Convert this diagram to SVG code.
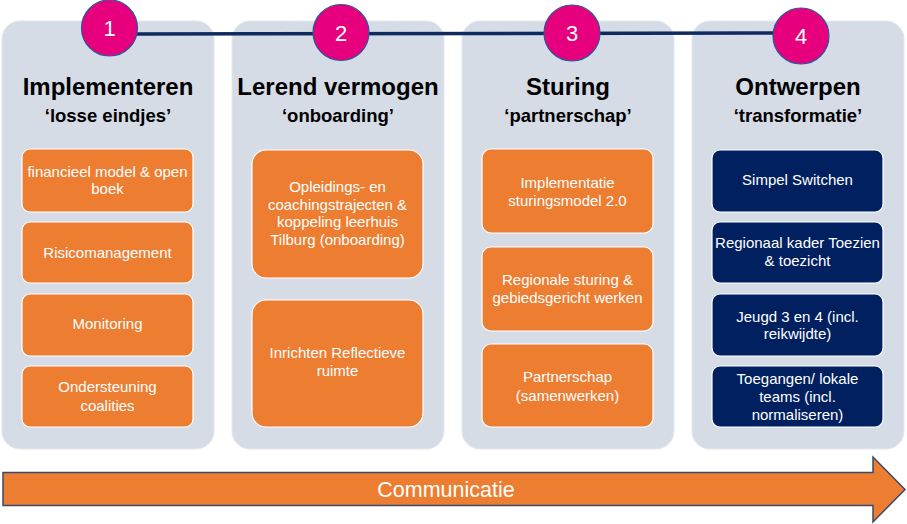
<svg xmlns="http://www.w3.org/2000/svg" width="907" height="524" viewBox="0 0 907 524">
<style>
.panel{fill:#D6DCE5;stroke:#E3E7EE;stroke-width:1}
.ob{fill:#ED7D31;stroke:#FFFFFF;stroke-width:1.2}
.nb{fill:#002060;stroke:#FFFFFF;stroke-width:1.2}
.circ{fill:#E6007E;stroke:#2F5597;stroke-width:1.2}
.num{font-family:"Liberation Sans",Arial,sans-serif;font-size:22px;fill:#FFFFFF;text-anchor:middle}
.title{font-family:"Liberation Sans",Arial,sans-serif;font-size:24px;font-weight:bold;fill:#000000;text-anchor:middle}
.sub{font-family:"Liberation Sans",Arial,sans-serif;font-size:18.5px;font-weight:bold;fill:#000000;text-anchor:middle}
.bt{font-family:"Liberation Sans",Arial,sans-serif;font-size:15px;fill:#FFFFFF;text-anchor:middle}
.comm{font-family:"Liberation Sans",Arial,sans-serif;font-size:21.5px;fill:#FFFFFF;text-anchor:middle}
</style>
<rect width="907" height="524" fill="#FFFFFF"/>

<g id="panel1">
<rect class="panel" x="2" y="21" width="212" height="428" rx="18"/>
<text class="title" x="108" y="95">Implementeren</text>
<text class="sub" x="108" y="122">‘losse eindjes’</text>
<rect class="ob" x="22" y="149" width="171" height="63" rx="8"/>
<text class="bt" x="107.5" y="177">financieel model &amp; open</text>
<text class="bt" x="107.5" y="194">boek</text>
<rect class="ob" x="22" y="222" width="171" height="61" rx="8"/>
<text class="bt" x="107.5" y="258">Risicomanagement</text>
<rect class="ob" x="22" y="294" width="171" height="62" rx="8"/>
<text class="bt" x="107.5" y="329">Monitoring</text>
<rect class="ob" x="22" y="366" width="171" height="61" rx="8"/>
<text class="bt" x="107.5" y="392">Ondersteuning</text>
<text class="bt" x="107.5" y="411">coalities</text>
</g>

<g id="panel2">
<rect class="panel" x="232" y="21" width="212" height="428" rx="18"/>
<text class="title" x="338" y="95">Lerend vermogen</text>
<text class="sub" x="338" y="122">‘onboarding’</text>
<rect class="ob" x="252" y="150" width="171" height="128" rx="14"/>
<text class="bt" x="337.5" y="192">Opleidings- en</text>
<text class="bt" x="337.5" y="210">coachingstrajecten &amp;</text>
<text class="bt" x="337.5" y="227">koppeling leerhuis</text>
<text class="bt" x="337.5" y="245">Tilburg (onboarding)</text>
<rect class="ob" x="252" y="300" width="171" height="127" rx="14"/>
<text class="bt" x="337.5" y="358">Inrichten Reflectieve</text>
<text class="bt" x="337.5" y="376">ruimte</text>
</g>

<g id="panel3">
<rect class="panel" x="462" y="21" width="212" height="428" rx="18"/>
<text class="title" x="568" y="95">Sturing</text>
<text class="sub" x="568" y="122">‘partnerschap’</text>
<rect class="ob" x="482" y="149" width="171" height="84" rx="9"/>
<text class="bt" x="567.5" y="188">Implementatie</text>
<text class="bt" x="567.5" y="206">sturingsmodel 2.0</text>
<rect class="ob" x="482" y="247" width="171" height="84" rx="9"/>
<text class="bt" x="567.5" y="285">Regionale sturing &amp;</text>
<text class="bt" x="567.5" y="303">gebiedsgericht werken</text>
<rect class="ob" x="482" y="344" width="171" height="83" rx="9"/>
<text class="bt" x="567.5" y="382">Partnerschap</text>
<text class="bt" x="567.5" y="401">(samenwerken)</text>
</g>

<g id="panel4">
<rect class="panel" x="692" y="21" width="212" height="428" rx="18"/>
<text class="title" x="798" y="95">Ontwerpen</text>
<text class="sub" x="798" y="122">‘transformatie’</text>
<rect class="nb" x="712" y="150" width="171" height="62" rx="8"/>
<text class="bt" x="797.5" y="185">Simpel Switchen</text>
<rect class="nb" x="712" y="222" width="171" height="61" rx="8"/>
<text class="bt" x="797.5" y="248">Regionaal kader Toezien</text>
<text class="bt" x="797.5" y="266">&amp; toezicht</text>
<rect class="nb" x="712" y="294" width="171" height="62" rx="8"/>
<text class="bt" x="797.5" y="322">Jeugd 3 en 4 (incl.</text>
<text class="bt" x="797.5" y="339">reikwijdte)</text>
<rect class="nb" x="712" y="366" width="171" height="61" rx="8"/>
<text class="bt" x="797.5" y="384">Toegangen/ lokale</text>
<text class="bt" x="797.5" y="402">teams (incl.</text>
<text class="bt" x="797.5" y="420">normaliseren)</text>
</g>

<g id="connectors">
<line x1="135" y1="34" x2="775" y2="33" stroke="#0F2A5E" stroke-width="3.5"/>
</g>

<g id="step1">
<circle class="circ" cx="109.5" cy="28" r="28"/>
<text class="num" x="109.5" y="36">1</text>
</g>
<g id="step2">
<circle class="circ" cx="341" cy="32.5" r="28"/>
<text class="num" x="341" y="40.5">2</text>
</g>
<g id="step3">
<circle class="circ" cx="572" cy="33" r="28"/>
<text class="num" x="572" y="41">3</text>
</g>
<g id="step4">
<circle class="circ" cx="801" cy="36" r="28"/>
<text class="num" x="801" y="44">4</text>
</g>

<g id="communicatie">
<path d="M3,472.5 L873,472.5 L873,457 L905,489.5 L873,522 L873,505.5 L3,505.5 Z" fill="#ED7D31" stroke="#3A4A6B" stroke-width="1.5" stroke-linejoin="miter"/>
<text class="comm" x="446" y="497">Communicatie</text>
</g>
</svg>
